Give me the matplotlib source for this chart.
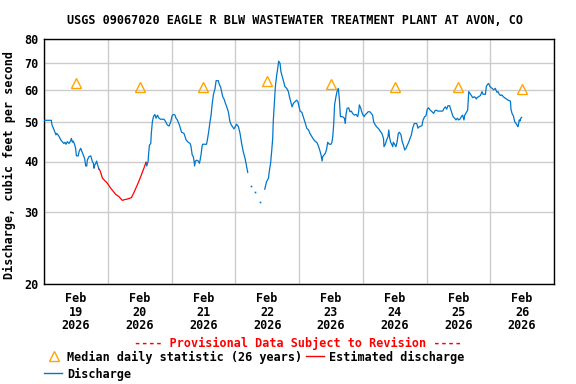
import numpy as np
import matplotlib
matplotlib.use('Agg')
import matplotlib.pyplot as plt
from matplotlib.lines import Line2D

# hours since Feb 19 2026 00:00 and discharge (cfs); nan = gap in record
obs_hours = [0, 2.76, 3.0, 3.8, 4.5, 4.8, 5.6, 6.3, 6.9, 7.5, 7.9, 8.3, 8.8, 9.4, 10.0, 10.3, 10.7, 11.0,
             11.5, 11.9, 12.2, 12.9, 13.2, 13.8, 14.2, 14.8, 15.3, 15.7, 16.1, 16.3, 16.9, 17.6, 18.2, 18.6,
             18.8, 19.1, 19.5, 19.8, 20.3, 20.7, 30.0,
             38.4, 38.7, 39.2, 39.4, 39.7, 40.2, 40.4, 40.8, 41.2, 41.7, 42.2, 42.7, 43.3, 43.9, 45.2, 45.8,
             46.4, 47.1, 47.7, 48.3, 48.9, 49.3, 49.7, 50.2, 50.95, 51.8, 52.7, 53.1, 53.5, 54.3, 55.0, 55.3,
             55.8, 56.2, 56.5, 56.7, 57.0, 57.5, 58.1, 58.5, 58.7, 59.1, 59.5, 59.7, 61.2, 61.6, 62.0, 62.5,
             62.9, 63.3, 63.8, 64.4, 64.8, 65.6, 66.0, 66.5, 67.3, 67.8, 68.3, 68.8, 69.4, 70.0, 70.5, 71.0,
             71.5, 72.0, 72.5, 73.2, 73.8, 74.4, 75.0, 75.7, 76.3, 76.7, 77.4, 78.1, 78.8, 79.6, 80.5, 81.4,
             82.2, 83.1, 83.8, 84.5, 84.8, 85.3, 85.7, 86.1, 86.3, 86.7, 87.1, 87.6, 88.0, 88.35, 88.85, 89.2,
             89.9, 90.4, 90.7, 91.4, 92.0, 92.4, 92.9, 93.4, 93.9, 94.5, 95.1, 95.6, 96.1, 96.4, 97.1, 97.6,
             98.4, 98.9, 99.6, 100.1, 100.9, 101.4, 102.2, 102.7, 103.4, 103.9, 104.3, 104.7, 104.9, 105.4,
             105.9, 106.4, 106.8, 107.4, 108.05, 108.4, 108.7, 109.05, 109.4, 109.9, 110.3, 110.8, 111.2,
             111.6, 112.4, 113.1, 113.4, 113.7, 114.1, 114.7, 115.2, 115.7, 116.2, 116.8, 117.5, 118.1, 118.5,
             118.7, 119.2, 119.6, 120.0, 120.5, 121.0, 121.5, 122.0, 122.7, 123.2, 123.7, 124.1, 124.7, 125.2,
             126.0, 126.7, 127.2, 127.8, 128.0, 128.5, 129.0, 129.5, 129.8, 130.1, 130.5, 130.9, 131.3, 131.5,
             132.0, 132.5, 132.9, 133.4, 133.8, 134.4, 134.8, 135.3, 135.8, 136.3, 136.8, 137.3, 137.8, 138.3,
             138.8, 139.4, 140.3, 140.8, 141.3, 141.9, 142.3, 142.7, 143.3, 143.8, 144.3, 144.8, 145.4, 146.1,
             146.7, 147.1, 147.6, 148.3, 149.2, 150.1, 150.6, 151.1, 151.6, 152.1, 152.7, 153.2, 153.6, 154.0,
             154.6, 155.1, 155.6, 156.1, 156.7, 157.1, 157.6, 158.1, 158.4, 159.0, 159.5, 159.9, 160.3, 160.9,
             161.4, 162.1, 162.8, 163.0, 163.6, 164.3, 164.9, 165.3, 166.2, 166.5, 167.0, 167.4, 167.9, 168.7,
             169.3, 169.9, 170.5, 170.9, 171.4, 171.9, 172.4, 172.9, 173.4, 174.2, 174.7, 175.6, 175.8, 176.2,
             176.7, 177.2, 177.7, 178.2, 178.4, 178.7, 178.9, 179.2, 179.5, 179.8]
obs_cfs = [50.5, 50.5, 49.2, 47.8, 46.5, 46.9, 46.2, 45.2, 44.75, 44.3, 44.6, 44.1, 44.75, 44.3, 44.9, 45.6, 44.6, 44.9,
           44.1, 43.1, 41.3, 41.3, 42.3, 43.1, 42.45, 41.5, 40.7, 39.0, 39.0, 40.3, 41.1, 41.3, 40.0, 39.6,
           38.5, 39.2, 39.6, 40.1, 39.0, 38.3, np.nan,
           39.8, 39.0, 40.1, 41.9, 43.9, 44.3, 46.9, 50.1, 51.55, 52.2, 51.1, 52.0, 51.1, 50.8, 50.8, 50.1,
           49.2, 48.9, 50.1, 52.0, 52.2, 52.0, 51.1, 50.6, 49.2, 47.2, 46.9, 46.0, 45.2, 44.6, 44.3, 43.7,
           41.5, 41.1, 40.1, 39.0, 40.1, 40.3, 40.1, 39.6, 40.1, 41.5, 43.5, 44.1, 44.1, 45.6, 47.35, 50.1,
           52.0, 55.3, 58.5, 60.5, 63.2, 63.2, 61.9, 60.9, 57.7, 56.9, 55.6, 54.5, 53.0, 50.1, 49.2, 48.7,
           48.1, 48.7, 49.4, 48.7, 46.9, 44.3, 42.3, 40.7, 38.8, 37.6, np.nan, 34.8, np.nan, 33.6, np.nan, 31.8,
           np.nan, 34.2, 35.7, 36.4, 37.8, 39.6, 42.3, 45.6, 50.1, 55.1, 61.1, 65.2, 67.8, 70.6, 69.7, 66.5,
           64.0, 62.2, 61.1, 60.5, 59.4, 57.7, 56.1, 54.5, 55.6, 56.1, 56.6, 56.1, 54.2, 53.2, 52.8, 51.55,
           49.6, 48.3, 47.8, 46.9, 46.0, 45.4, 44.75, 44.6, 43.5, 42.45, 41.5, 40.1, 41.1, 41.5,
           41.9, 42.9, 44.6, 44.1, 44.1, 44.6, 46.0, 49.2, 55.1, 57.7, 59.4, 60.5, 56.9,
           51.55, 51.55, 51.1, 49.6, 52.2, 54.0, 54.2, 53.0, 53.2, 52.5, 52.0, 52.2, 51.55, 53.2,
           55.1, 54.2, 53.0, 52.2, 51.55, 52.2, 52.5, 53.0, 53.0, 52.5, 52.0, 50.1, 49.2, 48.7,
           48.1, 47.35, 46.9, 45.6, 43.5, 44.1, 45.2, 46.0, 47.8, 45.8, 44.6, 44.1, 43.5, 44.6,
           44.1, 43.5, 44.6, 46.9, 47.2, 46.5, 44.9, 43.9, 42.7, 43.1, 43.9, 44.6, 45.6, 46.5,
           48.3, 49.6, 49.6, 48.3, 48.7, 48.9, 49.0, 50.6, 51.55, 51.8, 53.8, 54.2, 53.5, 53.0,
           52.5, 53.2, 53.5, 53.2, 53.2, 53.2, 54.0, 54.5, 53.8, 54.85, 54.85, 53.5, 52.5, 51.55,
           51.1, 50.6, 51.1, 50.6, 50.9, 51.55, 52.0, 50.6, 52.0, 52.8, 53.5, 59.4, 58.9, 58.1,
           57.4, 57.7, 56.96, 57.4, 57.7, 58.1, 59.4, 58.5, 58.5, 61.1, 61.9, 62.2, 61.1, 60.5,
           60.0, 60.5, 59.2, 59.4, 58.5, 58.1, 58.3, 57.7, 57.4, 56.96, 56.6, 56.3, 53.8, 52.5,
           51.8, 50.1, 49.6, 49.0, 48.7, 49.6, 50.6, 50.3, 51.1, 51.35]

# estimated (ice affected) discharge
est_hours = [20.7, 21.1, 22.0, 23.8, 25.1, 27.0, 28.2, 29.5, 30.1, 31.4, 32.9, 33.9, 35.1, 36.4, 37.6, 38.4]
est_cfs = [38.3, 38.0, 36.4, 35.4, 34.4, 33.2, 32.8, 32.1, 32.2, 32.35, 32.6, 33.6, 35.0, 36.7, 38.5, 39.8]

# median daily statistic (26 years), plotted at noon
days = [19, 20, 21, 22, 23, 24, 25, 26]
median_cfs = [62.3, 61.1, 61.1, 63.2, 62.0, 61.1, 61.1, 60.2]

yticks = [20, 30, 40, 50, 60, 70, 80]

BLUE = '#0077cc'
RED = '#ff0000'
ORANGE = '#ffa500'
FONT = 'DejaVu Sans Mono'
FS = 8.5

plt.rcParams['font.family'] = FONT
plt.rcParams['font.weight'] = 'bold'

fig = plt.figure(figsize=(5.76, 3.84), dpi=100)
ax = fig.add_axes([44/576, 1 - 284/384, 510/576, 245/384])

obs_h = np.array(obs_hours)
obs_q = np.array(obs_cfs)
ax.plot(obs_h, obs_q, color=BLUE, lw=0.9, zorder=3)
# single readings surrounded by gaps show up as dots
lone = [i for i in range(1, len(obs_q) - 1)
        if np.isnan(obs_q[i-1]) and np.isnan(obs_q[i+1]) and not np.isnan(obs_q[i])]
ax.plot(obs_h[lone], obs_q[lone], 's', color=BLUE, ms=1.2, mew=0, zorder=3)
ax.plot(est_hours, est_cfs, color=RED, lw=0.9, zorder=3)
ax.plot([24*d - 24*19 + 12 for d in days], median_cfs, '^', ms=7, mfc='none', mec=ORANGE, mew=1.0, zorder=4)

ax.set_yscale('log')
ax.set_ylim(20, 80)
ax.set_xlim(0, 192)
ax.set_yticks(yticks)
ax.set_yticklabels([str(t) for t in yticks], fontsize=FS, fontweight='bold')
ax.yaxis.set_minor_locator(matplotlib.ticker.NullLocator())

ax.set_xticks(np.arange(0, 193, 24))
ax.set_xticklabels([])
ax.set_xticks([24*i + 12 for i in range(len(days))], minor=True)
ax.set_xticklabels([f'Feb\n{d}\n2026' for d in days], minor=True, fontsize=FS, fontweight='bold', linespacing=1.05)
ax.tick_params(axis='both', which='both', length=0)
ax.tick_params(axis='y', pad=4)
ax.tick_params(axis='x', which='minor', pad=6)
ax.grid(True, which='major', color='#cccccc', lw=1.0)
ax.set_axisbelow(True)
for s in ax.spines.values():
    s.set_linewidth(1.0)

ax.set_ylabel('Discharge, cubic feet per second', fontsize=FS, fontweight='bold')
ax.yaxis.set_label_coords(-27.5/510, 119/245)
fig.text(295/576, 1 - 20/384, 'USGS 09067020 EAGLE R BLW WASTEWATER TREATMENT PLANT AT AVON, CO',
         ha='center', va='center', fontsize=FS, fontweight='bold')
fig.text(298/576, 1 - 343/384, '---- Provisional Data Subject to Revision ----',
         ha='center', va='center', fontsize=FS, fontweight='bold', color=RED)

# legend, laid out like the USGS graph
fig.add_artist(Line2D([53.5/576], [1 - 355.5/384], marker='^', ms=7, mfc='none', mec=ORANGE, mew=1.0, ls='none'))
fig.text(67/576, 1 - 357/384, 'Median daily statistic (26 years)', ha='left', va='center', fontsize=FS, fontweight='bold')
fig.add_artist(Line2D([306/576, 324/576], [1 - 356/384] * 2, color=RED, lw=1.0))
fig.text(329/576, 1 - 357/384, 'Estimated discharge', ha='left', va='center', fontsize=FS, fontweight='bold')
fig.add_artist(Line2D([44/576, 62/576], [1 - 373/384] * 2, color=BLUE, lw=1.0))
fig.text(67/576, 1 - 374/384, 'Discharge', ha='left', va='center', fontsize=FS, fontweight='bold')

plt.savefig('out.png', dpi=100)
